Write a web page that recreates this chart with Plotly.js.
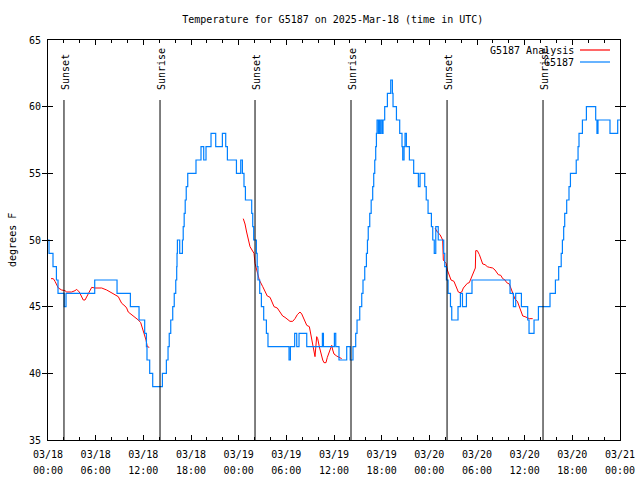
<!DOCTYPE html>
<html>
<head>
<meta charset="utf-8">
<script src="https://cdn.plot.ly/plotly-3.0.1.min.js"></script>
<style>html,body{margin:0;padding:0;background:#fff;}#chart{width:640px;height:480px;}</style>
</head>
<body>
<div id="chart"></div>
<script>
// Hours after 2025-03-18 00:00 UTC
const obsName = "G5187";
const obsHours = [0,0.13,0.63,1.06,1.26,2.04,2.27,5.88,8.69,10.37,11.46,12.17,12.39,12.46,12.8,13.18,14.4,14.9,15.11,15.26,15.45,15.7,15.89,16.08,16.2,16.24,16.29,16.58,16.92,17.02,17.14,17.27,17.4,17.59,18.63,19.26,19.6,19.89,20.52,21.11,21.95,22.37,22.58,23.72,24.26,24.47,24.67,24.85,25.64,25.77,25.89,26.23,26.33,26.43,26.65,26.86,27.15,27.49,27.69,30.34,30.51,31.05,31.31,31.6,32.57,34.54,34.67,36.05,36.22,36.63,37.6,38.04,38.39,38.73,38.9,39.24,39.49,39.65,39.87,40.08,40.21,40.31,40.5,40.68,40.87,41.0,41.13,41.25,41.34,41.42,41.59,41.67,41.76,41.92,42.09,42.17,42.38,42.72,43.14,43.35,43.43,43.86,44.27,44.56,44.65,44.82,44.94,45.11,45.49,46.03,46.62,46.83,47.42,47.61,47.84,48.26,48.43,48.62,48.81,49.12,49.81,49.94,50.15,50.36,50.66,50.82,51.61,51.91,52.17,52.67,53.37,58.16,58.58,58.87,59.59,60.38,60.55,61.18,61.73,63.19,63.87,64.28,64.6,64.75,64.91,65.04,65.29,65.58,65.76,66.49,66.72,66.84,67.27,67.77,68.94,69.1,69.23,70.74,71.71,72];
const obsTemp = [50,49,48,47,46,45,46,47,46,45,44,43,42,41,40,39,40,41,42,43,44,45,46,47,48,49,50,49,50,51,52,53,54,55,56,57,56,57,58,57,58,57,56,55,56,55,54,53,52,51,50,49,48,47,46,45,44,43,42,41,42,43,42,43,42,43,42,43,42,41,42,41,42,43,44,45,46,47,48,49,50,51,52,53,54,55,56,57,58,59,58,59,58,59,58,59,60,61,62,61,60,59,58,57,56,57,58,57,56,55,54,55,54,53,52,51,50,49,51,50,49,48,47,46,45,44,45,46,45,46,47,46,45,46,45,44,43,44,45,46,47,48,49,50,51,52,53,54,55,56,57,58,59,60,59,58,59,58,59,59];

const anaName = "G5187 Analysis";
const anaHours = [0.38,0.67,0.88,1.1,1.3,1.72,2.14,2.35,2.98,3.4,3.61,3.94,4.12,4.44,4.66,4.87,5.2,5.5,5.92,6.76,7.39,7.8,8.22,8.65,8.85,9.06,9.28,9.69,9.9,10.1,10.54,10.95,11.37,11.67,11.92,12.08,12.34,12.5,12.75,
  null,
  24.58,24.8,25.0,25.21,25.43,25.68,25.93,26.06,26.31,26.6,27.03,27.32,27.6,27.95,28.16,28.45,28.86,29.2,29.54,29.83,30.12,30.46,30.8,31.09,31.38,31.72,31.94,32.23,32.57,32.9,33.07,33.24,33.4,33.61,33.82,33.95,34.15,34.33,34.58,34.74,34.99,35.16,35.41,35.59,35.71,35.84,36.0,36.34,36.67,36.97,
  null,
  48.72,49.0,49.35,49.56,49.68,49.76,49.89,50.1,50.27,50.52,50.73,51.1,51.36,51.65,51.86,52.08,52.28,52.62,52.78,53.03,53.21,53.46,53.67,53.79,53.84,54.04,54.3,54.47,54.72,55.01,55.3,55.56,55.98,56.27,56.48,56.68,56.99,57.24,57.53,57.74,58.07,58.25,58.5,58.79,59.08,59.33,59.51,59.76,60.04,60.33,60.59,61.01];
const anaTemp = [47.1,47.1,46.9,46.6,46.4,46.25,46.2,46.1,46.1,46.2,46.3,46.1,45.9,45.5,45.5,45.75,46.1,46.45,46.4,46.4,46.25,46.1,45.95,45.8,45.75,45.5,45.25,45.05,44.9,44.6,44.4,44.25,44,43.8,43.4,43,42.5,42,41.95,
  null,
  51.6,51.2,50.6,50,49.5,49.25,49.0,48.25,47.6,47,46.5,46.1,45.8,45.7,45.4,45,44.9,44.55,44.3,44.2,44.05,43.9,43.9,44.1,44.4,44.6,44.45,44.05,43.6,43.5,43,42.25,41.75,41.25,42.75,42.6,42,41.5,41,40.8,40.8,41.2,41.6,42,42.1,41.75,41.45,41.3,41.2,41.1,
  null,
  50.9,50.6,50.4,50.1,50,48.5,48.4,48.25,47.75,47.4,47,46.9,46.5,46.1,46.05,46.1,46.4,46.6,46.75,46.8,47.05,47.5,47.75,47.9,49.2,49.2,48.9,48.55,48.2,48.15,48,47.95,47.9,47.75,47.55,47.4,47.35,47.1,47,46.8,46.7,46.4,45.95,45.55,45.4,45,44.7,44.3,44.25,44.2,44.1,44.1];

const sunLabels = ["Sunset","Sunrise","Sunset","Sunrise","Sunset","Sunrise"];
const sunHours = [2.01,14.1,26.06,38.14,50.23,62.31];

const yTicks = [35,40,45,50,55,60,65];

const base = Date.UTC(2025,2,18,0,0,0);
function toDate(h){
  if (h === null) return null;
  return new Date(base + Math.round(h*3600000)).toISOString().slice(0,19).replace('T',' ');
}

const font = {family: "DejaVu Sans Mono, Liberation Mono, monospace", size: 10, color: "#000"};

const traces = [
  {x: anaHours.map(toDate), y: anaTemp, type: 'scatter', mode: 'lines', name: anaName,
   line: {color: '#ff0000', width: 1}, connectgaps: false, showlegend: false},
  {x: obsHours.map(toDate), y: obsTemp, type: 'scatter', mode: 'lines', name: obsName,
   line: {color: '#0080ff', width: 1.2, shape: 'hv'}, showlegend: false},
  // invisible helper trace so the second (time-of-day label) axis is drawn
  {x: [toDate(0), toDate(72)], y: [35, 35], xaxis: 'x2', type: 'scatter', mode: 'lines',
   line: {width: 0, color: 'rgba(0,0,0,0)'}, hoverinfo: 'skip', showlegend: false}
];

const shapes = sunHours.map(h => ({type: 'line', xref: 'x', yref: 'y', x0: toDate(h), x1: toDate(h), y0: 35, y1: 60.5,
  line: {color: '#000', width: 1}}));
const annotations = sunHours.map((h, i) => ({xref: 'x', yref: 'y', x: toDate(h), y: 61.1, text: sunLabels[i],
  textangle: -90, showarrow: false, xanchor: 'center', yanchor: 'bottom', font: font, xshift: 1}));

// legend (drawn manually, text left of the sample line like the original)
const legendItems = [[anaName, '#ff0000', 0.975], [obsName, '#0080ff', 0.945]];
legendItems.forEach(([name, color, yp]) => {
  annotations.push({xref: 'paper', yref: 'paper', x: 0.923, y: yp, text: name, showarrow: false,
    xanchor: 'right', yanchor: 'middle', font: font});
  shapes.push({type: 'line', xref: 'paper', yref: 'paper', x0: 0.930, x1: 0.9825, y0: yp, y1: yp,
    line: {color: color, width: 1.2}});
});
annotations.push({xref: 'paper', yref: 'paper', x: -0.063, y: 0.5, text: 'degrees F', textangle: -90,
  showarrow: false, xanchor: 'center', yanchor: 'middle', font: font});

const xRange = [toDate(0), toDate(72)];
const layout = {
  width: 640, height: 480,
  margin: {l: 48, r: 20, t: 40, b: 40},
  paper_bgcolor: '#fff', plot_bgcolor: '#fff',
  font: font,
  title: {text: 'Temperature for G5187 on 2025-Mar-18 (time in UTC)', font: font,
    x: 0.52, xanchor: 'center', y: 0.96, yanchor: 'middle', xref: 'container'},
  xaxis: {type: 'date', range: xRange, dtick: 21600000, tick0: toDate(0),
    tickformat: '%m/%d', ticks: 'inside', ticklen: 5, tickcolor: '#000', ticklabelstandoff: 5,
    minor: {dtick: 7200000, ticks: 'inside', ticklen: 3, tickcolor: '#000'},
    showline: true, linecolor: '#000', linewidth: 1, mirror: 'allticks', showgrid: false, zeroline: false,
    tickfont: font, automargin: false, fixedrange: true},
  xaxis2: {type: 'date', range: xRange, dtick: 21600000, tick0: toDate(0), overlaying: 'x', anchor: 'y', side: 'bottom',
    tickformat: '%H:%M', ticks: '', ticklabelstandoff: 23, showline: false, showgrid: false, zeroline: false,
    tickfont: font, automargin: false, fixedrange: true},
  yaxis: {range: [35, 65], tickvals: yTicks, ticks: 'inside', ticklen: 5, tickcolor: '#000', ticklabelstandoff: 4,
    showline: true, linecolor: '#000', linewidth: 1, mirror: 'allticks', showgrid: false, zeroline: false,
    tickfont: font, automargin: false, fixedrange: true},
  shapes: shapes,
  annotations: annotations,
  showlegend: false
};

Plotly.newPlot('chart', traces, layout, {staticPlot: true, displayModeBar: false});
</script>
</body>
</html>
